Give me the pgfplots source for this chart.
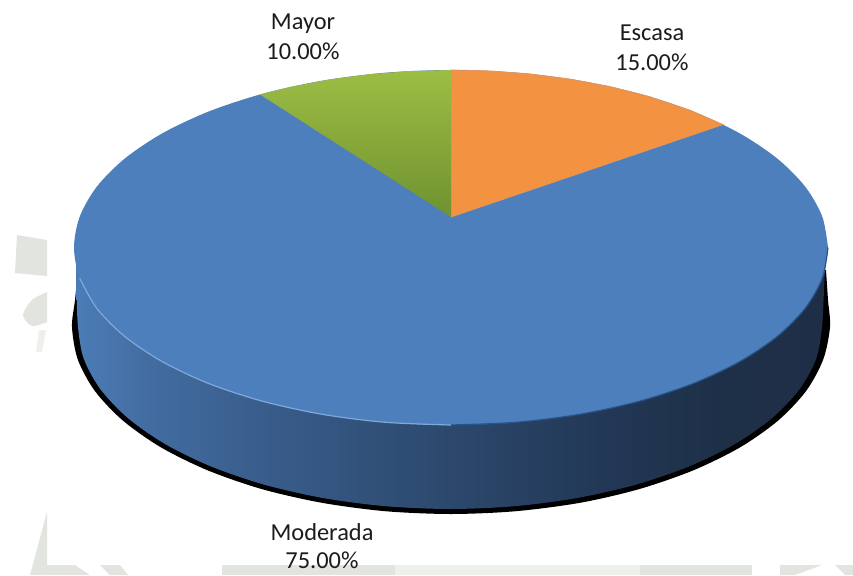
\documentclass[border=0pt]{standalone}
\usepackage{pgfplots}
\pgfplotsset{compat=1.18}
\usepackage{fontspec}
\setmainfont{Carlito}

\definecolor{faceblue}{RGB}{77,127,189}
\definecolor{rimlight}{RGB}{128,168,216}
\definecolor{rimdark}{RGB}{38,84,136}
\definecolor{sliceorange}{RGB}{243,146,64}
\definecolor{sliceedge}{RGB}{222,150,98}
\definecolor{greentop}{RGB}{156,189,68}
\definecolor{greenlow}{RGB}{112,146,48}
\definecolor{markgrey}{RGB}{226,229,223}
\definecolor{markpale}{RGB}{238,240,236}
\definecolor{labelink}{RGB}{28,28,28}
\definecolor{walla}{RGB}{76,124,182}
\definecolor{wallb}{RGB}{66,108,160}
\definecolor{wallc}{RGB}{56,92,138}
\definecolor{walld}{RGB}{44,72,108}
\definecolor{walle}{RGB}{34,56,86}
\definecolor{wallf}{RGB}{30,48,72}
\definecolor{wallg}{RGB}{30,46,70}

% Side wall of the disc: lit on the left, falling off to the right
\pgfdeclarehorizontalshading{wallside}{100bp}{
  color(0bp)=(walla);
  color(25bp)=(walla);
  color(30bp)=(wallb);
  color(38bp)=(wallc);
  color(50bp)=(walld);
  color(60bp)=(walle);
  color(68bp)=(wallf);
  color(75bp)=(wallg);
  color(100bp)=(wallg)}

\begin{document}
\begin{tikzpicture}
\begin{axis}[
  scale only axis, x=1pt, y=1pt, y dir=reverse,
  xmin=0, xmax=853, ymin=0, ymax=575,
  hide axis, no markers, clip=true]

% Page ground with the pale watermark fragments left and below
\addplot[fill=white, draw=none] coordinates {(0,0) (853,0) (853,575) (0,575)} --cycle;
\addplot[fill=markgrey, draw=none] coordinates {(17,235) (47,240) (47,276) (15,273)} --cycle;
\addplot[fill=markgrey, draw=none, smooth] coordinates {(47,292) (32,300) (23,315) (32,326) (47,322)} --cycle;
\addplot[fill=markpale, draw=none] coordinates {(39,330) (46,330) (42,352) (36,352)} --cycle;
\addplot[fill=markgrey, draw=none] coordinates {(47,512) (47,575) (30,575)} --cycle;
\addplot[fill=markgrey, draw=none] coordinates {(47,565) (75,565) (90,575) (47,575)} --cycle;
\addplot[fill=markgrey, draw=none] coordinates {(100,565) (120,565) (128,575) (110,575)} --cycle;
\addplot[fill=markgrey, draw=none] coordinates {(222,565) (395,565) (395,575) (222,575)} --cycle;
\addplot[fill=markpale, draw=none] coordinates {(395,565) (640,565) (640,575) (395,575)} --cycle;
\addplot[fill=markgrey, draw=none] coordinates {(640,565) (752,565) (752,575) (640,575)} --cycle;
\addplot[fill=markgrey, draw=none] coordinates {(780,565) (822,565) (795,575) (780,575)} --cycle;
\addplot[fill=markgrey, draw=none] coordinates {(835,565) (853,565) (853,575) (845,575)} --cycle;

% Dark shadow rim under the disc
\addplot[fill=black, draw=none, smooth] coordinates {
  (826,270) (828,300) (830,327) (823.2,359.5) (806.1,391) (778.2,420.5) (740.3,447.2)
  (693.6,470.2) (639.5,489) (580.6,502.7) (515.8,511.2) (451,514) (385.2,511.2)
  (321.4,502.7) (261.5,489) (207.4,470.2) (160.7,447.2) (122.8,420.5) (94.9,391)
  (77.8,359.5) (72,327) (75,300) (78,270)};

% Side wall
\addplot[shade, shading=wallside, draw=none, smooth] coordinates {
  (826,250) (824,290) (822,327) (816.3,358.6) (799.6,389.2) (772.2,418) (735,444)
  (689.1,466.4) (636,484.6) (577.2,498) (514.6,506.2) (450,509) (385.4,506.2)
  (322.8,498) (264,484.6) (210.9,466.4) (165,444) (127.8,418) (100.4,389.2)
  (83.7,358.6) (78,327) (76.5,290) (76,250)};

% Top face: the Moderada slice fills the whole ellipse, the two others lie on it
\addplot[fill=faceblue, draw=none, smooth] coordinates {
  (828,247.5) (822.3,278.3) (805.3,308.2) (777.5,336.25) (739.8,361.6) (693.3,383.5)
  (639.5,401.2) (579.9,414.3) (516.5,422.3) (451,425) (385.5,422.3) (322.1,414.3)
  (262.5,401.2) (208.7,383.5) (162.2,361.6) (124.5,336.25) (96.7,308.2) (79.7,278.3)
  (74,247.5) (79.7,216.7) (96.7,186.8) (124.5,158.75) (162.2,133.4) (208.7,111.5)
  (262.5,93.8) (322.1,80.7) (385.5,72.7) (451,70) (516.5,72.7) (579.9,80.7)
  (639.5,93.8) (693.3,111.5) (739.8,133.4) (777.5,158.75) (805.3,186.8) (822.3,216.7)
  (828,247.5)};

% Lit and shaded edge of the top face
\addplot[rimlight, line width=1.2pt, smooth] coordinates {
  (79.7,278.3) (96.7,308.2) (124.5,336.25) (162.2,361.6) (208.7,383.5) (262.5,401.2)
  (322.1,414.3) (385.5,422.3) (451,425)};
\addplot[rimdark, line width=1.2pt, smooth] coordinates {
  (451,425) (516.5,422.3) (579.9,414.3) (639.5,401.2) (693.3,383.5) (739.8,361.6)
  (777.5,336.25) (805.3,308.2) (822.3,278.3) (828,247.5)};

% Escasa, 15 %
\addplot[fill=sliceorange, draw=sliceedge, line width=0.8pt] coordinates {
  (451,217) (451,70) (490,70.95) (530,73.94) (570,79.07) (610,86.56)
  (650,96.75) (690,110.23) (723,124.59)} --cycle;

% Mayor, 10 %
\addplot[top color=greentop, bottom color=greenlow, draw=none] coordinates {
  (451,217) (260,94.47) (290,87) (330,79.39) (370,74.15) (410,71.05) (451,70)} --cycle;

\node[align=center, font=\fontsize{24.4}{30}\selectfont, text=labelink] at (axis cs:303,37) {Mayor\\10.00\%};
\node[align=center, font=\fontsize{24.4}{30}\selectfont, text=labelink] at (axis cs:652,48) {Escasa\\15.00\%};
\node[align=center, font=\fontsize{24.4}{28}\selectfont, text=labelink] at (axis cs:322,546.5) {Moderada\\75.00\%};
\end{axis}
\end{tikzpicture}
\end{document}
